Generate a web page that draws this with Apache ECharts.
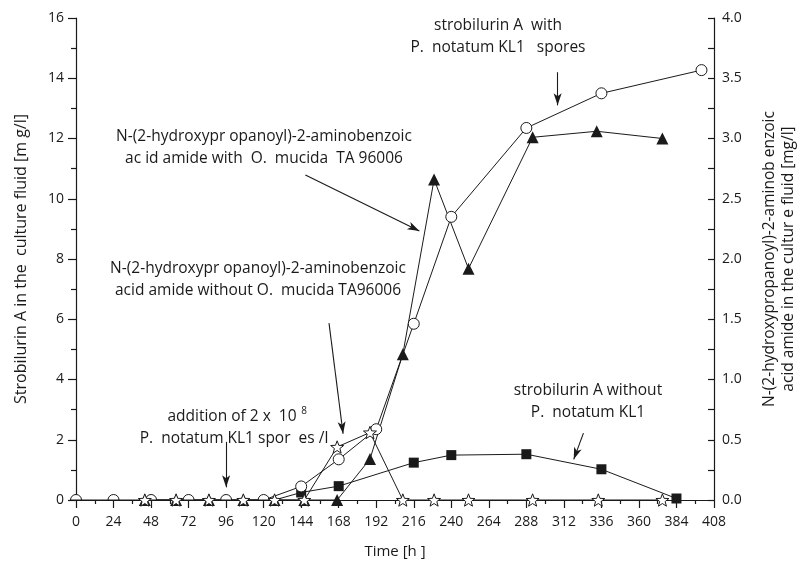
<!DOCTYPE html>
<html>
<head>
<meta charset="utf-8">
<script src="https://cdn.jsdelivr.net/npm/echarts@6/dist/echarts.min.js"></script>
<style>
  html, body { margin: 0; padding: 0; background: #fff; }
  #chart-container { width: 806px; height: 566px; }
</style>
</head>
<body>
<div id="chart-container"></div>
<script>
// strobilurin A with spores (open circles, left axis)
const circleTimes = [0, 24, 48, 72, 96, 120, 144, 168, 192, 216, 240, 288, 336, 400];
const circleVals  = [0, 0, 0, 0, 0, 0, 0.45, 1.35, 2.35, 5.85, 9.4, 12.35, 13.5, 14.27];

// strobilurin A without spores (filled squares, left axis)
const squareTimes = [127, 144, 168, 216, 240, 288, 336, 384];
const squareVals  = [0, 0.25, 0.46, 1.24, 1.49, 1.52, 1.02, 0.05];

// amide with O. mucida (filled triangles, right axis)
const triTimes = [44, 64, 85, 107, 127, 146, 167, 188, 209, 229, 251, 292, 333, 375];
const triVals  = [0, 0, 0, 0, 0, 0, 0, 0.34, 1.21, 2.66, 1.92, 3.01, 3.06, 3.0];

// amide without O. mucida (open stars, right axis)
const starTimes = [44, 64, 85, 107, 127, 146, 167, 188, 209, 229, 251, 292, 334, 375];
const starVals  = [0, 0, 0, 0, 0, 0, 0.44, 0.56, 0, 0, 0, 0, 0, 0];

// annotation arrows, [from, to] in (h, left-axis mg/l)
const arrows = [
  [[96, 1.93], [96, 0.42]],
  [[146.7, 10.79], [219.6, 8.93]],
  [[161.8, 5.87], [170.8, 2.2]],
  [[308, 14.2], [308, 13.1]],
  [[324.5, 2.22], [318.3, 1.35]]
];

const xTicks = {min: 0, max: 408, interval: 24};

const starPath = 'path://M10,0 L12.47,6.6 L19.51,6.91 L14,11.3 L15.88,18.09 L10,14.2 L4.12,18.09 L6,11.3 L0.49,6.91 L7.53,6.6 Z';
const halfCircle = 'path://M0,10 A10,10 0 0 1 20,10 Z';
const ink = '#1a1a1a';
const font = 'Open Sans';

var chartDom = document.getElementById('chart-container');
var myChart = echarts.init(chartDom);

const zip = (xs, ys) => xs.map((x, i) => [x, ys[i]]);

const circleData = circleTimes.map((t, i) => {
  if (circleVals[i] === 0) {
    return {value: [t, 0], symbol: halfCircle, symbolKeepAspect: true, symbolOffset: [0, -2.75]};
  }
  return [t, circleVals[i]];
});
const squareData = squareTimes.map((t, i) => i === 0 ? {value: [t, squareVals[i]], symbol: 'none'} : [t, squareVals[i]]);

const txt = (x, y, text, size) => ({
  type: 'text', x: x, y: y, silent: true, z: 100,
  style: {text: text, fill: ink, font: (size || 15.5) + 'px "' + font + '"', textAlign: 'center', textVerticalAlign: 'top', lineHeight: 22}
});

var option = {
  animation: false,
  textStyle: {fontFamily: font},
  grid: {left: 76, right: 80, top: 18, bottom: 66},
  xAxis: {
    type: 'value',
    min: xTicks.min, max: xTicks.max, interval: xTicks.interval,
    name: 'Time [h ]', nameLocation: 'middle', nameGap: 44,
    nameTextStyle: {color: ink, fontSize: 15, fontFamily: font},
    axisLine: {lineStyle: {color: ink, width: 1.2}},
    axisTick: {inside: false, length: 8, lineStyle: {color: ink, width: 1.2}},
    minorTick: {show: true, splitNumber: 2, length: 4, lineStyle: {color: ink, width: 1.2}},
    axisLabel: {color: ink, fontSize: 14, margin: 15, fontFamily: font},
    splitLine: {show: false}
  },
  yAxis: [
    {
      type: 'value', min: 0, max: 16, interval: 2, position: 'left',
      name: 'Strobilurin A in the  culture fluid [m g/l]', nameLocation: 'middle', nameGap: 47, nameRotate: 90,
      nameTextStyle: {color: ink, fontSize: 16, fontFamily: font},
      axisLine: {show: true, lineStyle: {color: ink, width: 1.2}},
      axisTick: {show: true, length: 8, lineStyle: {color: ink, width: 1.2}},
      minorTick: {show: true, splitNumber: 2, length: 5, lineStyle: {color: ink, width: 1.2}},
      axisLabel: {color: ink, fontSize: 14, margin: 12, fontFamily: font},
      splitLine: {show: false}
    },
    {
      type: 'value', min: 0, max: 4, interval: 0.5, position: 'right',
      name: 'N-(2-hydroxypropanoyl)-2-aminob enzoic\nacid amide in the cultur e fluid [mg/l]',
      nameLocation: 'middle', nameGap: 46, nameRotate: 90,
      nameTextStyle: {color: ink, fontSize: 15.5, lineHeight: 19, fontFamily: font},
      axisLine: {show: true, lineStyle: {color: ink, width: 1.2}},
      axisTick: {show: true, inside: true, length: 6, lineStyle: {color: ink, width: 1.2}},
      minorTick: {show: true, splitNumber: 2, length: 6, lineStyle: {color: ink, width: 1.2}},
      axisLabel: {color: ink, fontSize: 14, margin: 8, fontFamily: font, formatter: v => v.toFixed(1)},
      splitLine: {show: false}
    }
  ],
  series: [
    {
      name: 'strobilurin A without', type: 'line', yAxisIndex: 0,
      data: squareData, symbol: 'rect', symbolSize: 10,
      lineStyle: {color: ink, width: 1}, itemStyle: {color: ink},
      markLine: {
        silent: true, animation: false,
        symbol: ['none', 'arrow'], symbolSize: [6, 12],
        lineStyle: {color: ink, width: 1.1, type: 'solid'},
        label: {show: false},
        data: arrows.map(a => [{coord: a[0]}, {coord: a[1]}])
      }
    },
    {
      name: 'strobilurin A with', type: 'line', yAxisIndex: 0,
      data: circleData, symbol: 'circle', symbolSize: 11, showAllSymbol: true,
      lineStyle: {color: ink, width: 1},
      itemStyle: {color: '#fff', borderColor: ink, borderWidth: 1}
    },
    {
      name: 'amide with', type: 'line', yAxisIndex: 1,
      data: zip(triTimes, triVals), symbol: 'triangle', symbolSize: 12, showAllSymbol: true,
      lineStyle: {color: ink, width: 1}, itemStyle: {color: ink}
    },
    {
      name: 'amide without', type: 'line', yAxisIndex: 1,
      data: zip(starTimes, starVals), symbol: starPath, symbolSize: 13, symbolKeepAspect: true, showAllSymbol: true,
      lineStyle: {color: ink, width: 1},
      itemStyle: {color: '#fff', borderColor: ink, borderWidth: 1}
    }
  ],
  graphic: [
    txt(232, 406, 'addition of 2 x  10'),
    txt(304, 400, '8', 10),
    txt(234, 428, 'P.  notatum KL1 spor  es /l'),
    txt(264, 126, 'N-(2-hydroxypr opanoyl)-2-aminobenzoic\nac id amide with  O.  mucida  TA 96006'),
    txt(258, 258, 'N-(2-hydroxypr opanoyl)-2-aminobenzoic\nacid amide without O.  mucida TA96006'),
    txt(498, 15, 'strobilurin A  with\nP.  notatum KL1   spores'),
    txt(588, 380, 'strobilurin A without\nP.  notatum KL1')
  ]
};

option && myChart.setOption(option);
</script>
</body>
</html>
